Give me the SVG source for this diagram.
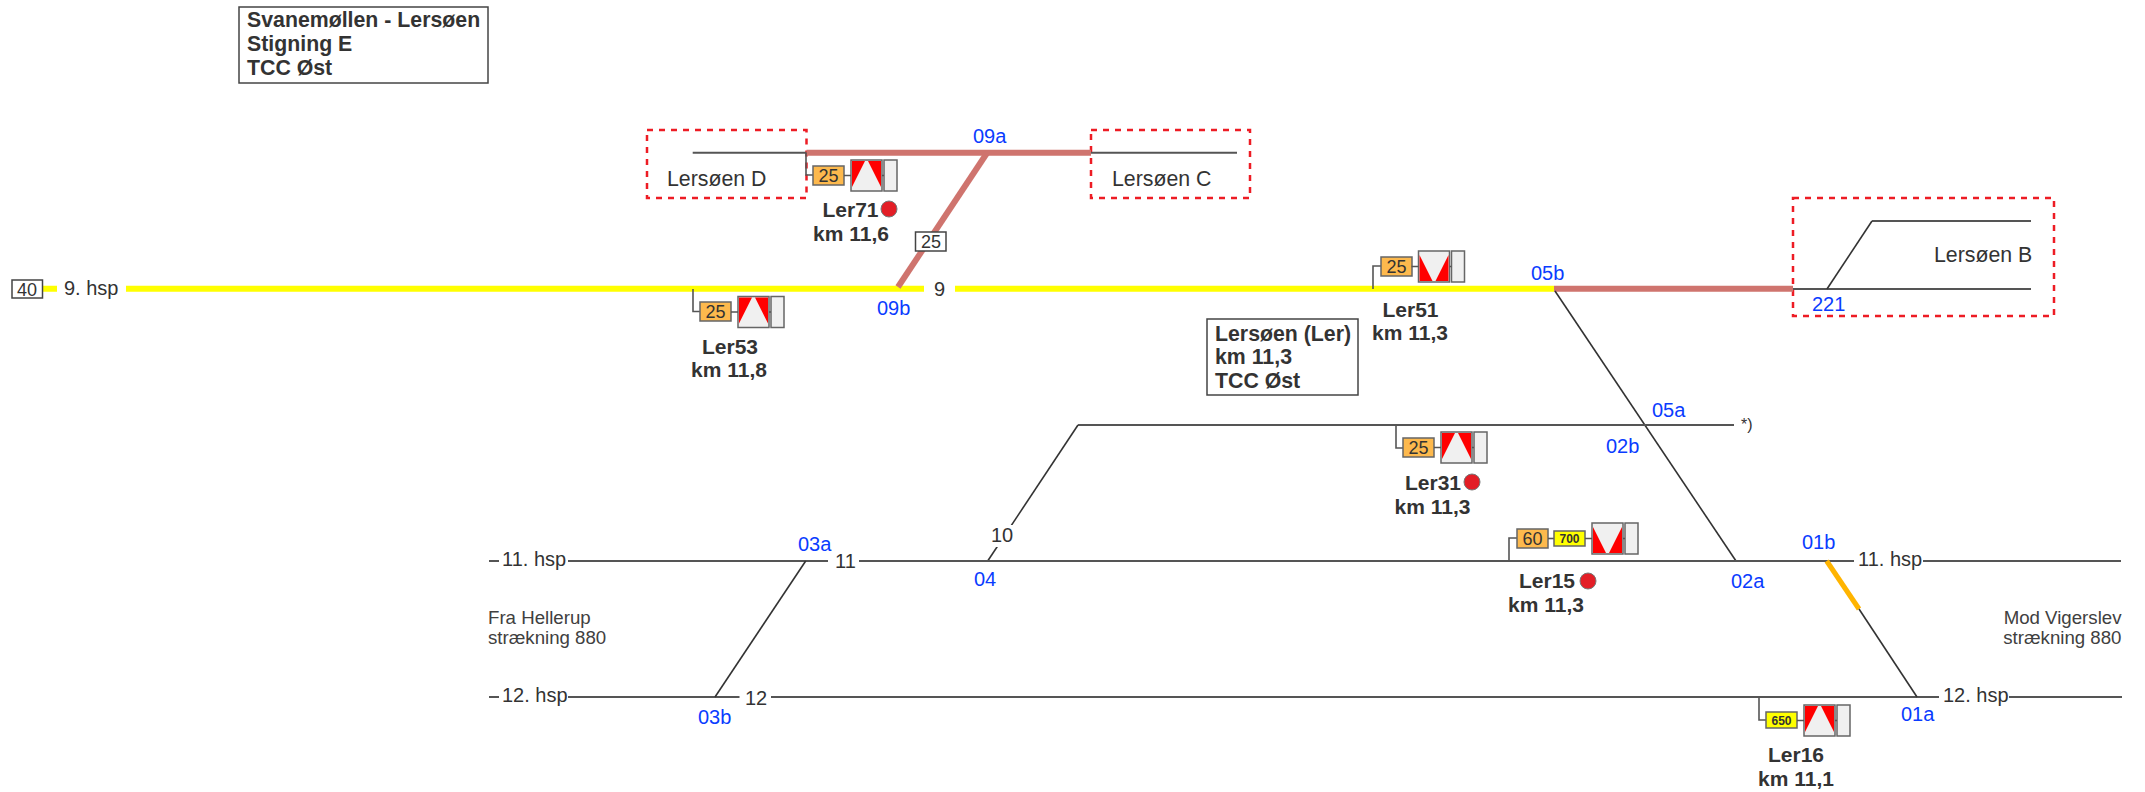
<svg xmlns="http://www.w3.org/2000/svg" xmlns:xlink="http://www.w3.org/1999/xlink" width="2145" height="792" viewBox="0 0 2145 792">
<style>
text{font-family:"Liberation Sans",Arial,sans-serif;fill:#333}
.b{font-weight:bold;font-size:21px}
.h{font-weight:bold;font-size:21.300px}
.t{font-size:20px}
.n{font-size:21.300px}
.s{font-size:18.670px;fill:#404040}
.id{font-size:20px;fill:#0a3cff}
.v{font-size:18px;text-anchor:middle}
.d{font-size:12px;font-weight:bold;text-anchor:middle}
.e{text-anchor:end}
.box{fill:#fff;stroke:#444;stroke-width:1.500}
.th{fill:none;stroke:#555;stroke-width:2}
.di{fill:none;stroke:#333;stroke-width:1.600}
.ye{fill:none;stroke:#ff0;stroke-width:6}
.br{fill:none;stroke:#cf746e;stroke-width:6}
.or{fill:none;stroke:#ffb400;stroke-width:5}
.za{fill:none;stroke:#ed1c24;stroke-width:2.500;stroke-dasharray:6 6}
.st{fill:none;stroke:#555;stroke-width:1.600}
.sp{fill:#fdb94d;stroke:#666;stroke-width:1.500}
.dy{fill:#ff0;stroke:#666;stroke-width:1.500}
.g{fill:#f0f0f0;stroke:#666;stroke-width:1.500}
.r{fill:#f00}
.dot{fill:#e31e26;stroke:#777;stroke-width:1}
</style>
<defs>
<g id="sig-up">
<rect class="g" width="31" height="31"/>
<path class="r" d="M1 1H14L1 27ZM17 1H30V27Z"/>
<rect class="g" x="33" width="13" height="31"/>
<path class="st" d="M31 15.500H33M-7 15.500H0"/>
</g>
<g id="sig-dn">
<rect class="g" width="31" height="31"/>
<path class="r" d="M1 4L14 30H1ZM30 4V30H17Z"/>
<rect class="g" x="33" width="13" height="31"/>
<path class="st" d="M31 15.500H33M-7 15.500H0"/>
</g>
</defs>

<g id="dashed-areas">
<rect class="za" x="647" y="130" width="159.500" height="68"/>
<rect class="za" x="1091" y="130" width="159" height="68"/>
<rect class="za" x="1793" y="198" width="261" height="118"/>
</g>

<g id="connectors">
<path class="ye" d="M42 288.700H57M126 288.700H924M955 288.700H1554"/>
<path class="br" d="M1554 288.700H1793M806.500 152.700H1091"/>
<path class="br" d="M987 153L898 287"/>
<path class="th" d="M692.700 152.700H806.500M1091 152.700H1237M1793 289H2031M1872 221H2031"/>
<path class="di" d="M1827 289L1872 221"/>
<path class="di" d="M1555 291L1736 561"/>
<path class="th" d="M1078 425H1734"/>
<path class="di" d="M987.700 561L1078 425"/>
<path class="th" d="M489 561H499M568 561H828M859 561H1854M1923 561H2121"/>
<path class="th" d="M489 697H499M568 697H739.500M771 697H1939M2009 697H2122"/>
<path class="di" d="M805.700 561L715 697"/>
<path class="or" d="M1826.700 561L1859 609"/>
<path class="di" d="M1859 609L1917 697"/>
<rect x="990" y="525" width="24" height="22" fill="#fff"/>
</g>

<g id="title-box">
<rect class="box" x="239" y="7" width="249" height="76"/>
<text class="h" x="247" y="27">Svanemøllen - Lersøen</text>
<text class="h" x="247" y="51">Stigning E</text>
<text class="h" x="247" y="75">TCC Øst</text>
</g>

<g id="station-box">
<rect class="box" x="1207" y="319" width="151" height="76"/>
<text class="h" x="1215" y="341">Lersøen (Ler)</text>
<text class="h" x="1215" y="364">km 11,3</text>
<text class="h" x="1215" y="388">TCC Øst</text>
</g>

<g id="speed-40">
<rect class="box" x="12" y="280" width="30.500" height="18"/>
<text class="v" x="27" y="296">40</text>
</g>
<g id="speed-25">
<rect class="box" x="915.500" y="232" width="30.500" height="19"/>
<text class="v" x="931" y="248">25</text>
</g>

<g id="track-labels">
<text class="t" x="64" y="295">9. hsp</text>
<text class="t" x="934" y="296">9</text>
<text class="t" x="502" y="566">11. hsp</text>
<text class="t" x="502" y="702">12. hsp</text>
<text class="t" x="835" y="568">11</text>
<text class="t" x="745" y="705">12</text>
<text class="t" x="991" y="542">10</text>
<text class="t" x="1858" y="566">11. hsp</text>
<text class="t" x="1943" y="702">12. hsp</text>
<text x="1741" y="430" font-size="16">*)</text>
<text class="n" x="667" y="186">Lersøen D</text>
<text class="n" x="1112" y="186">Lersøen C</text>
<text class="n" x="1934" y="262">Lersøen B</text>
<text class="s" x="488" y="624">Fra Hellerup</text>
<text class="s" x="488" y="644">strækning 880</text>
<text class="s e" x="2121.500" y="624">Mod Vigerslev</text>
<text class="s e" x="2121.500" y="644">strækning 880</text>
</g>

<g id="point-labels">
<text class="id" x="973" y="143">09a</text>
<text class="id" x="877" y="315">09b</text>
<text class="id" x="1531" y="280">05b</text>
<text class="id" x="1652" y="417">05a</text>
<text class="id" x="1606" y="453">02b</text>
<text class="id" x="1731" y="588">02a</text>
<text class="id" x="1802" y="549">01b</text>
<text class="id" x="1901" y="721">01a</text>
<text class="id" x="798" y="551">03a</text>
<text class="id" x="698" y="724">03b</text>
<text class="id" x="974" y="586">04</text>
<text class="id" x="1812" y="311">221</text>
</g>

<g id="Ler71">
<path class="st" d="M806 153V175H813"/>
<rect class="sp" x="813" y="166" width="31" height="19"/>
<text class="v" x="828.500" y="182">25</text>
<use xlink:href="#sig-up" href="#sig-up" x="851" y="160"/>
<circle class="dot" cx="889" cy="209" r="8"/>
<text class="b" x="822.500" y="217">Ler71</text>
<text class="b" x="813" y="241">km 11,6</text>
</g>
<g id="Ler53">
<path class="st" d="M693 289V311.500H700"/>
<rect class="sp" x="700" y="302" width="31" height="19"/>
<text class="v" x="715.500" y="318">25</text>
<use xlink:href="#sig-up" href="#sig-up" x="738" y="296.500"/>
<text class="b" x="702" y="354">Ler53</text>
<text class="b" x="691" y="377">km 11,8</text>
</g>
<g id="Ler51">
<path class="st" d="M1373 289V266H1381"/>
<rect class="sp" x="1381" y="257" width="31" height="19"/>
<text class="v" x="1396.500" y="273">25</text>
<use xlink:href="#sig-dn" href="#sig-dn" x="1418.500" y="251"/>
<text class="b" x="1382.500" y="317">Ler51</text>
<text class="b" x="1372" y="340">km 11,3</text>
</g>
<g id="Ler31">
<path class="st" d="M1396 425V448H1403"/>
<rect class="sp" x="1403" y="438" width="31" height="19"/>
<text class="v" x="1418.500" y="454">25</text>
<use xlink:href="#sig-up" href="#sig-up" x="1441" y="432"/>
<circle class="dot" cx="1472" cy="482" r="8"/>
<text class="b" x="1405" y="490">Ler31</text>
<text class="b" x="1394.500" y="514">km 11,3</text>
</g>
<g id="Ler15">
<path class="st" d="M1509 561V538H1517"/>
<rect class="sp" x="1517" y="529" width="31" height="19"/>
<text class="v" x="1532.500" y="545">60</text>
<path class="st" d="M1548 538.500H1554"/>
<rect class="dy" x="1554" y="531" width="31" height="15"/>
<text class="d" x="1569.500" y="543">700</text>
<use xlink:href="#sig-dn" href="#sig-dn" x="1592" y="523"/>
<circle class="dot" cx="1588" cy="581" r="8"/>
<text class="b" x="1519" y="588">Ler15</text>
<text class="b" x="1508" y="612">km 11,3</text>
</g>
<g id="Ler16">
<path class="st" d="M1759 697V720H1766"/>
<rect class="dy" x="1766" y="712" width="31" height="16"/>
<text class="d" x="1781.500" y="724.500">650</text>
<use xlink:href="#sig-up" href="#sig-up" x="1804" y="705"/>
<text class="b" x="1768" y="762">Ler16</text>
<text class="b" x="1758" y="786">km 11,1</text>
</g>
</svg>
